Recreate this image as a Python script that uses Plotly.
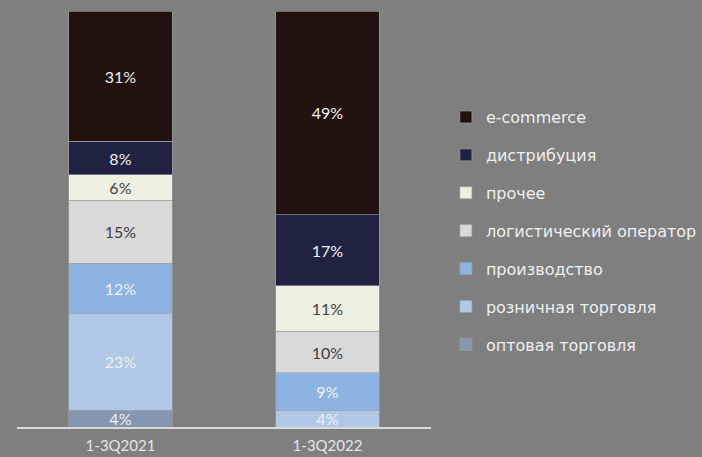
import plotly.graph_objects as go

categories = ["1-3Q2021", "1-3Q2022"]
series_names = ["оптовая торговля", "розничная торговля", "производство",
                "логистический оператор", "прочее", "дистрибуция", "e-commerce"]
wholesale = [4, None]
retail = [23, 4]
production = [12, 9]
logistics = [15, 10]
other = [6, 11]
distribution = [8, 17]
ecommerce = [31, 49]

series_values = [wholesale, retail, production, logistics, other, distribution, ecommerce]
colors = ["#8496b0", "#b0c8e6", "#8db3e2", "#d9d9d9", "#eef0e2", "#1f2240", "#21110f"]
text_colors = ["#f2f2f2", "#f2f2f2", "#f2f2f2", "#404040", "#404040", "#f2f2f2", "#f2f2f2"]

fig = go.Figure()
n = len(series_names)
for i, (name, vals) in enumerate(zip(series_names, series_values)):
    fig.add_trace(go.Bar(
        x=categories, y=vals, name=name,
        marker=dict(color=colors[i], line=dict(color="rgba(160,160,160,0.8)", width=0.8)),
        text=[(f"{v}%" if v is not None else "") for v in vals],
        textposition="inside", insidetextanchor="middle", textangle=0,
        textfont=dict(family="Lato", size=16, color=text_colors[i]),
        legendgroup=name, legendrank=n - i, hoverinfo="skip",
    ))

fig.update_layout(
    barmode="stack", barnorm="percent", bargap=0.5,
    width=702, height=457,
    paper_bgcolor="#7f7f7f", plot_bgcolor="#7f7f7f",
    margin=dict(l=17, r=271, t=11, b=30, autoexpand=False),
    uniformtext=dict(minsize=16, mode="show"),
    legend=dict(
        x=1.036, y=0.471, xanchor="left", yanchor="middle",
        traceorder="grouped", tracegroupgap=14.1,
        font=dict(family="DejaVu Sans", size=16, color="#f0f0f0"),
        bgcolor="rgba(0,0,0,0)", itemwidth=30,
    ),
    showlegend=True,
)
fig.update_xaxes(showline=True, linecolor="#d9d9d9", linewidth=2,
                 tickfont=dict(family="Lato", size=15, color="#e6e6e6"),
                 ticks="", showgrid=False, ticklabelstandoff=4)
fig.update_yaxes(range=[0, 100], visible=False, showgrid=False)

fig.write_html("out.html", config={"displayModeBar": False},
               post_script="document.body.style.margin='0';document.body.style.overflow='hidden';")
